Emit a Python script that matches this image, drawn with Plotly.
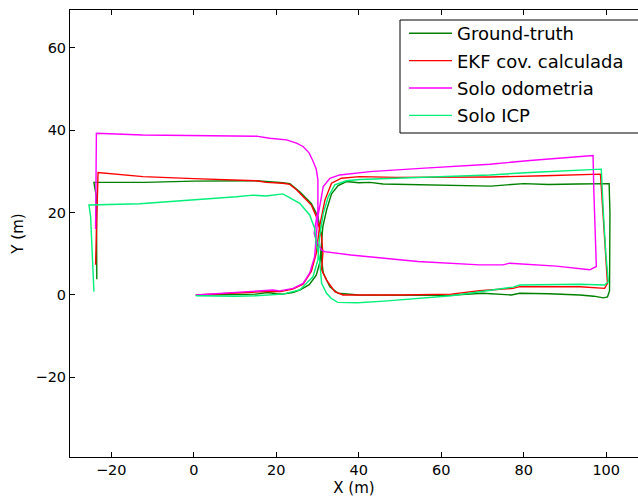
import plotly.graph_objects as go

# ---- data ----
gt_x = [0.5, 5, 10, 15, 18, 20, 21.6, 24, 25.7, 28, 29.7, 30.6, 31.0, 31.3, 32.2, 33.4, 35.0, 37.0, 40.0, 42.7,
        45.9, 57, 65, 72, 80, 86, 93, 100.7, 100.9, 100.9, 100.8, 100.3, 99.3, 97, 93.6, 86, 79, 77, 70, 62,
        50, 40, 35, 33, 31.4, 31.0, 31.0, 30.1, 28.5, 25.7, 23.3, 21.6, 15, 0, -12, -24.2, -23.8, -23.6, -23.5]
gt_y = [0, 0, 0.1, 0.2, 0.6, 0.3, 0.2, 0.6, 1.2, 2.5, 4.8, 8, 13, 16.6, 20.6, 24.5, 26.5, 27.5, 27.2, 27.3,
        26.9, 26.7, 26.5, 26.4, 27.0, 26.8, 26.9, 27.0, 20, 10, 1, -0.5, -0.7, -0.3, 0, 0.3, 0.4, 0, 0.4, -0.1,
        -0.1, 0, 0.4, 2, 5.3, 8.5, 14, 19, 22.2, 25, 27, 27.2, 27.7, 27.6, 27.3, 27.3, 25, 24, 3.8]

ekf_x = [0.5, 5, 10, 15, 19, 21, 24, 26.5, 28.5, 29.7, 30.5, 31.8, 33.4, 35.8, 37.8, 40.2, 49, 60, 71.8, 85,
         98.6, 99.2, 99.8, 100.3, 99.6, 93.6, 79, 77.4, 69.3, 62.4, 50, 39.8, 36.2, 34.2, 32.2, 31.0, 31.3, 31.0,
         29.7, 28.5, 24.9, 23.3, 21.6, 17.6, 15.2, 0, -12.3, -23.2, -23.5, -23.8]
ekf_y = [0, 0.2, 0.4, 0.6, 0.9, 0.8, 1.4, 2.6, 5.7, 10.1, 16.6, 23, 27.1, 28.3, 28.4, 28.7, 28.5, 28.5, 28.6, 28.9,
         29.3, 20, 10, 2.8, 1.6, 2.0, 2.0, 1.6, 1.0, 0.2, 0, 0, 0, 0.8, 3.6, 6.1, 10.1, 14.1,
         19, 21.8, 25.5, 26.8, 27.1, 27.3, 27.7, 28.2, 28.7, 29.7, 20, 7.3]

odo_x = [0.5, 5, 10, 15, 19.2, 20.8, 24.1, 26.5, 28.1, 29.3, 30.1, 31.4, 33, 35.4, 39.4, 42.7, 55, 71.8, 81.5, 96.8,
         97.0, 97.3, 97.6, 96.0, 87.9, 76.6, 75, 69.3, 54.3, 38.1, 31.7, 31.0, 30.3, 29.6, 29.2, 29.5, 30.1, 30.1,
         29.7, 28.9, 28.0, 26.5, 24.9, 22.5, 18.4, 15.2, -5.8, -12.4, -23.6, -23.7, -23.8]
odo_y = [0, 0.3, 0.5, 0.8, 1.2, 1.0, 1.6, 2.8, 5.3, 9.3, 19, 26.3, 28.3, 29.1, 29.5, 29.9, 30.7, 31.7, 32.6, 33.8,
         25, 15, 6.9, 6.1, 7.0, 7.7, 7.3, 7.3, 8.1, 9.7, 10.5, 10.9, 12, 13.5, 15, 17, 20.6, 27.9,
         30.5, 32.5, 34.4, 36, 36.8, 37.6, 38.0, 38.5, 38.8, 38.8, 39.2, 28, 16]

icp_x = [0.5, 5, 10, 15, 20, 21.6, 25.7, 28.9, 30.1, 30.5, 31.4, 32.6, 34.2, 37, 40.2, 55, 71.8, 81.5, 98.8,
         99.3, 99.9, 100.5, 99.6, 93.6, 79, 77.4, 69.3, 62.4, 46.2, 39.8, 34.9, 33.3, 32.2, 31.0, 30.5, 29.7,
         29.3, 28.1, 25.7, 21.6, 17.5, 14.4, 10.3, 1.5, -5.8, -13.1, -25.4, -25.0, -24.2]
icp_y = [-0.2, -0.3, -0.3, -0.2, 0.0, 0.2, 1.2, 4.4, 8.5, 14.1, 19.8, 23.8, 26.7, 27.7, 28.0, 28.6, 29.1, 29.7, 30.5,
         20, 10, 3.2, 2.4, 2.6, 2.4, 1.9, 0.7, -0.2, -1.5, -1.9, -1.8, -0.8, 0.4, 2.8, 8.5, 12.5,
         16.2, 19.4, 22.2, 24.5, 24.0, 24.2, 23.8, 23.2, 22.6, 22.1, 21.8, 19, 0.8]

names = ["Ground-truth", "EKF cov. calculada", "Solo odometria", "Solo ICP"]
colors = ["#008000", "#ff0000", "#ff00ff", "#00f07a"]
xs = [gt_x, ekf_x, odo_x, icp_x]
ys = [gt_y, ekf_y, odo_y, icp_y]

x_ticks = [-20, 0, 20, 40, 60, 80, 100]
y_ticks = [-20, 0, 20, 40, 60]

fig = go.Figure()
for i, (nm, c, x, y) in enumerate(zip(names, colors, xs, ys)):
    fig.add_trace(go.Scatter(x=x, y=y, mode="lines", name=nm, legendgroup=f"g{i}",
                             line=dict(color=c, width=1.4)))

# legend frame (matplotlib-style box running off the right edge)
fig.add_shape(type="rect", xref="paper", yref="paper",
              x0=0.581, x1=1.03, y0=0.7248, y1=0.9776,
              line=dict(color="black", width=1), fillcolor="white", layer="above")

font = "DejaVu Sans, sans-serif"
fig.update_layout(
    width=638, height=497,
    margin=dict(l=70, r=0, t=10, b=40, autoexpand=False),
    paper_bgcolor="white", plot_bgcolor="white",
    font=dict(family=font, size=14.5, color="black"),
    showlegend=True,
    legend=dict(x=0.588, y=0.9888, xanchor="left", yanchor="top",
                bgcolor="rgba(0,0,0,0)", borderwidth=0,
                font=dict(family=font, size=18, color="black"),
                tracegroupgap=1, itemwidth=43),
    xaxis=dict(range=[-30, 107.7], tickvals=x_ticks, showgrid=False, zeroline=False,
               showline=True, linecolor="black", linewidth=1, mirror="ticks",
               ticks="inside", ticklen=5, tickcolor="black",
               title=dict(text="X (m)", font=dict(size=15), standoff=6)),
    yaxis=dict(range=[-39.3, 69.1], tickvals=y_ticks, showgrid=False, zeroline=False,
               showline=True, linecolor="black", linewidth=1, mirror=False,
               ticks="inside", ticklen=5, tickcolor="black",
               title=dict(text="Y (m)", font=dict(size=15), standoff=8)),
)

fig.write_html("out.html",
               config={"displayModeBar": False},
               post_script="document.body.style.margin='0';document.body.style.overflow='hidden';")
